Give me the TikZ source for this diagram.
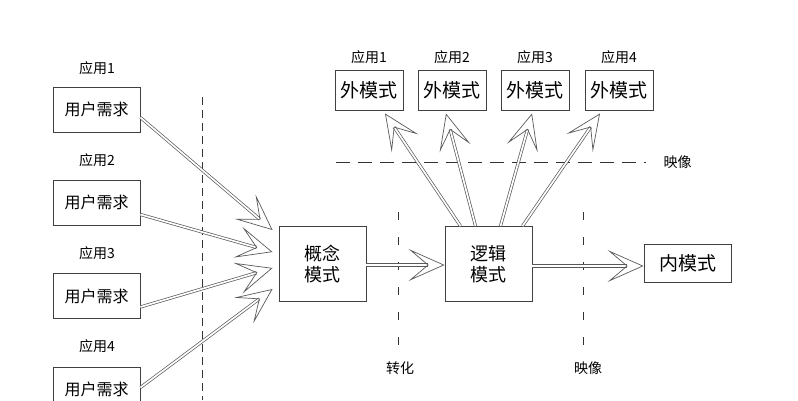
\documentclass[tikz,border=0pt]{standalone}
\usepackage{fontspec}
\newfontfamily\cjk{Noto Sans CJK SC}
\usetikzlibrary{arrows.meta}

\tikzset{
  box/.style={draw=black!75, line width=0.9pt, inner sep=0pt, align=center},
  lbl/.style={font=\cjk\fontsize{14}{16}\selectfont},
  fat/.style={draw=black!65, line width=0.7pt, double=white, double distance=1.7pt,
    -{Stealth[open, length=36pt, width=32pt, inset=19pt, line width=0.7pt]}},
  cut/.style={black!80, line width=0.9pt, dash pattern=on 8pt off 5pt}
}

\begin{document}
\begin{tikzpicture}[x=1pt, y=-1pt, font=\cjk]
  \useasboundingbox (0,0) rectangle (798,400);
  \clip (0,0) rectangle (798,400);

  % left column: applications
  \node [box, minimum width=87pt, minimum height=45pt, font=\cjk\fontsize{16}{18}\selectfont] (req1) at (96.5,109.5) {用户需求};
  \node [box, minimum width=87pt, minimum height=45pt, font=\cjk\fontsize{16}{18}\selectfont] (req2) at (96.5,202.5) {用户需求};
  \node [box, minimum width=87pt, minimum height=45pt, font=\cjk\fontsize{16}{18}\selectfont] (req3) at (96.5,296) {用户需求};
  \node [box, minimum width=87pt, minimum height=45pt, font=\cjk\fontsize{16}{18}\selectfont] (req4) at (96.5,389.5) {用户需求};

  \node [lbl] (app1) at (97,68) {应用1};
  \node [lbl] (app2) at (97,160) {应用2};
  \node [lbl] (app3) at (97,253) {应用3};
  \node [lbl] (app4) at (97,346) {应用4};

  % middle row
  \node [box, minimum width=87pt, minimum height=75pt, font=\cjk\fontsize{18}{21}\selectfont] (concept) at (322.5,264) {概念\\模式};
  \node [box, minimum width=87pt, minimum height=75pt, font=\cjk\fontsize{18}{21}\selectfont] (logic) at (488.5,264) {逻辑\\模式};
  \node [box, minimum width=87pt, minimum height=38pt, font=\cjk\fontsize{19}{21}\selectfont] (inner) at (687.5,263) {内模式};

  % external schemas
  \foreach \i/\x in {1/369, 2/452, 3/535, 4/619} {
    \node [box, minimum width=68pt, minimum height=40pt, font=\cjk\fontsize{19}{21}\selectfont] (ext\i) at (\x,90) {外模式};
    \node [lbl] (extapp\i) at (\x,57) {应用\i};
  }

  % dashed separators
  \coordinate (sepA) at (202,97);
  \coordinate (sepB) at (202,400);
  \draw [cut] (sepA) -- (sepB);
  \coordinate (midA) at (398,212);
  \coordinate (midB) at (398,352);
  \draw [cut, dash pattern=on 8pt off 17pt] (midA) -- (midB);
  \coordinate (rgtA) at (583,212);
  \coordinate (rgtB) at (583,352);
  \draw [cut, dash pattern=on 8pt off 17pt] (rgtA) -- (rgtB);
  \coordinate (topA) at (336,162);
  \coordinate (topB) at (646,162);
  \draw [cut, dash pattern=on 14pt off 8pt] (topA) -- (topB);

  \node [lbl, anchor=west] (maptop) at (660,162) {映像};
  \node [lbl] (trans) at (400,368) {转化};
  \node [lbl] (mapbot) at (588,368) {映像};

  % arrows into the conceptual schema
  \draw [fat] ([yshift=-8pt]req1.east) -- ([xshift=-6pt,yshift=-4pt]concept.north west);
  \draw [fat] ([yshift=-12pt]req2.east) -- ([xshift=-6pt,yshift=12pt]concept.west);
  \draw [fat] ([yshift=-11pt]req3.east) -- ([xshift=-6pt,yshift=-4pt]concept.west);
  \draw [fat] ([yshift=2pt]req4.east) -- ([xshift=-6pt,yshift=-25pt]concept.west);

  \draw [fat] ([yshift=-1pt]concept.east) -- ([yshift=-1pt]logic.west);
  \draw [fat] ([yshift=-2pt]logic.east) -- ([yshift=-3pt]inner.west);

  % arrows up to the external schemas
  \draw [fat] ([xshift=-28pt]logic.north) -- ([xshift=16pt,yshift=-3pt]ext1.south);
  \draw [fat] ([xshift=-13pt]logic.north) -- ([xshift=-6pt,yshift=-3pt]ext2.south);
  \draw [fat] ([xshift=12pt]logic.north) -- ([xshift=-3pt,yshift=-3pt]ext3.south);
  \draw [fat] ([xshift=34pt]logic.north) -- ([xshift=-19pt,yshift=-3pt]ext4.south);
\end{tikzpicture}
\end{document}
